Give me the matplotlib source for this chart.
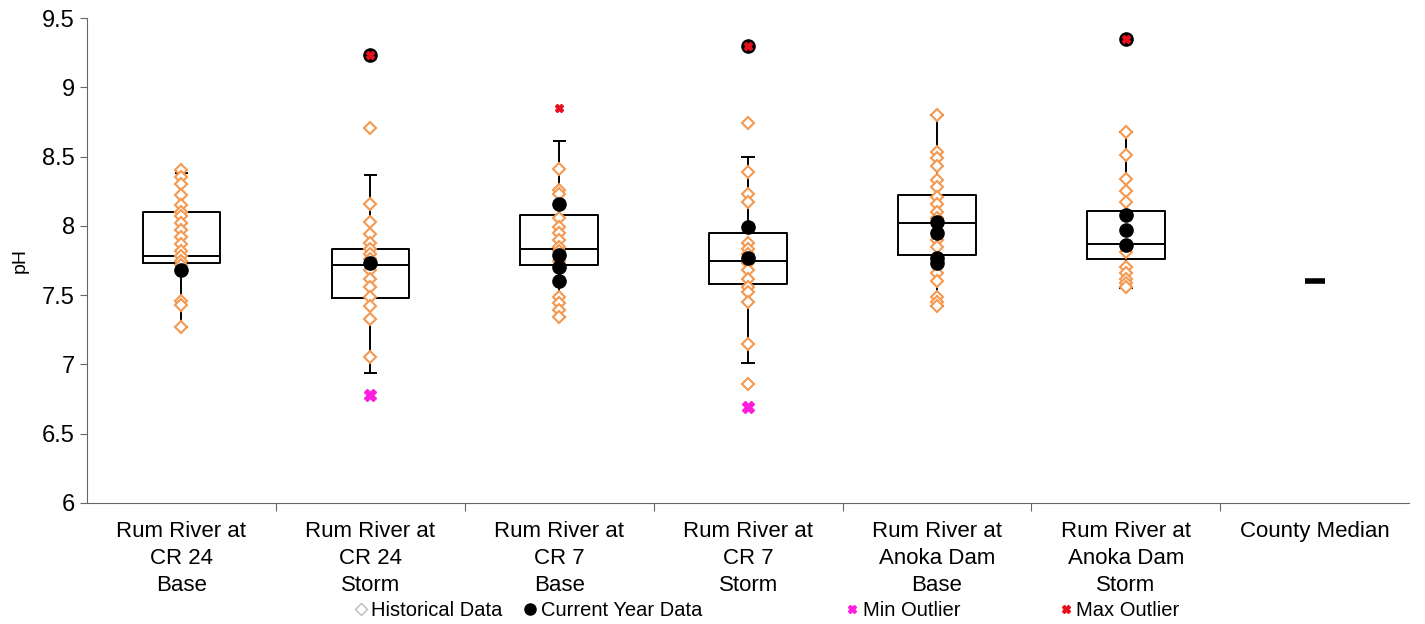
import matplotlib
matplotlib.use('Agg')
import matplotlib.pyplot as plt
from matplotlib.lines import Line2D

plt.rcParams['font.family'] = ['Liberation Sans', 'DejaVu Sans']

# site labels
sites = ['Rum River at\nCR 24\nBase', 'Rum River at\nCR 24\nStorm',
         'Rum River at\nCR 7\nBase', 'Rum River at\nCR 7\nStorm',
         'Rum River at\nAnoka Dam\nBase', 'Rum River at\nAnoka Dam\nStorm',
         'County Median']

# box stats per site (whisker low, q1, median, q3, whisker high)
whis_lo = [7.27, 6.94, 7.34, 7.01, 7.42, 7.55]
q1 = [7.73, 7.48, 7.72, 7.58, 7.79, 7.76]
med = [7.78, 7.72, 7.83, 7.75, 8.02, 7.87]
q3 = [8.10, 7.83, 8.08, 7.95, 8.22, 8.11]
whis_hi = [8.38, 8.37, 8.61, 8.50, 8.80, 8.68]

# historical points
hist = [
    [8.40, 8.35, 8.30, 8.22, 8.15, 8.10, 8.07, 8.02, 7.97, 7.92, 7.87, 7.82, 7.78, 7.75, 7.72, 7.46, 7.43, 7.27],
    [8.71, 8.16, 8.03, 7.94, 7.88, 7.83, 7.80, 7.76, 7.68, 7.62, 7.56, 7.49, 7.42, 7.33, 7.05],
    [8.41, 8.26, 8.23, 8.06, 7.99, 7.95, 7.90, 7.85, 7.82, 7.75, 7.49, 7.44, 7.39, 7.34],
    [8.74, 8.39, 8.23, 8.17, 7.88, 7.83, 7.80, 7.73, 7.68, 7.62, 7.56, 7.52, 7.45, 7.15, 6.86],
    [8.80, 8.53, 8.49, 8.43, 8.33, 8.28, 8.21, 8.16, 8.10, 8.06, 7.90, 7.85, 7.66, 7.60, 7.49, 7.45, 7.42],
    [8.68, 8.51, 8.34, 8.25, 8.17, 7.81, 7.70, 7.66, 7.62, 7.59, 7.56],
]
# current year points
current = [
    [7.68],
    [9.23, 7.73],
    [8.16, 7.79, 7.70, 7.60],
    [9.30, 7.99, 7.77],
    [8.03, 7.95, 7.77, 7.73],
    [9.35, 8.08, 7.97, 7.86],
]
# outliers
min_out = [[], [6.78], [], [6.69], [], []]
max_out = [[], [9.23], [8.85], [9.30], [], [9.35]]
county_median = 7.6

orange = '#F4994F'

fig = plt.figure(figsize=(14.25, 6.24), dpi=100)
ax = fig.add_axes([0.061, 0.194, 0.928, 0.777])

stats = []
for i in range(6):
    stats.append({'med': med[i], 'q1': q1[i], 'q3': q3[i],
                  'whislo': whis_lo[i], 'whishi': whis_hi[i], 'fliers': []})
ax.bxp(stats, positions=range(1, 7), widths=0.41, capwidths=0.06, showfliers=False,
       boxprops=dict(color='black', linewidth=1.4),
       medianprops=dict(color='black', linewidth=1.4),
       whiskerprops=dict(color='black', linewidth=1.4),
       capprops=dict(color='black', linewidth=1.4))

for i in range(6):
    x = i + 1
    ax.plot([x] * len(hist[i]), hist[i], linestyle='none', marker='D', markersize=6.5,
            markerfacecolor='white', markeredgecolor=orange, markeredgewidth=1.5, zorder=3)
    ax.plot([x] * len(current[i]), current[i], linestyle='none', marker='o', markersize=9.5,
            color='black', zorder=4)
    if min_out[i]:
        ax.plot([x] * len(min_out[i]), min_out[i], linestyle='none', marker='X', markersize=8,
                color='#FF1EE0', zorder=5)
    if max_out[i]:
        ax.plot([x] * len(max_out[i]), max_out[i], linestyle='none', marker='X', markersize=6,
                color='#E8101E', zorder=5)

# county median dash
ax.plot([7], [county_median], linestyle='none', marker='_', markersize=14,
        markeredgewidth=4, color='black', zorder=4)

ax.set_xlim(0.5, 7.5)
ax.set_ylim(6, 9.5)
ax.set_yticks([6, 6.5, 7, 7.5, 8, 8.5, 9, 9.5])
ax.set_yticklabels(['6', '6.5', '7', '7.5', '8', '8.5', '9', '9.5'])
ax.set_ylabel('pH', fontsize=14, labelpad=10)
ax.tick_params(axis='y', labelsize=17, direction='out', length=5, color='#666666')

ax.set_xticks([1.5 + i for i in range(6)], minor=False)
ax.set_xticklabels([])
ax.tick_params(axis='x', direction='out', length=6, color='#666666')
for i, s in enumerate(sites):
    ax.text(i + 1, 5.87, s, ha='center', va='top', fontsize=16, linespacing=1.38,
            transform=ax.transData)

for side in ['top', 'right']:
    ax.spines[side].set_visible(False)
ax.spines['left'].set_color('#666666')
ax.spines['bottom'].set_color('#666666')

# legend entries spread along the bottom
entries = [
    (Line2D([], [], linestyle='none', marker='D', markersize=6, markerfacecolor='white',
            markeredgecolor='#BBBBBB', markeredgewidth=1), 'Historical Data', 0.249),
    (Line2D([], [], linestyle='none', marker='o', markersize=8, color='black'),
     'Current Year Data', 0.368),
    (Line2D([], [], linestyle='none', marker='X', markersize=6, color='#FF1EE0'),
     'Min Outlier', 0.594),
    (Line2D([], [], linestyle='none', marker='X', markersize=6, color='#E8101E'),
     'Max Outlier', 0.744),
]
for h, lab, xpos in entries:
    lg = fig.legend([h], [lab], loc='center left', bbox_to_anchor=(xpos, 0.022),
                    frameon=False, fontsize=14.5, handlelength=0.6, handletextpad=0.2,
                    borderpad=0, borderaxespad=0)

fig.savefig('out.png', dpi=100)
